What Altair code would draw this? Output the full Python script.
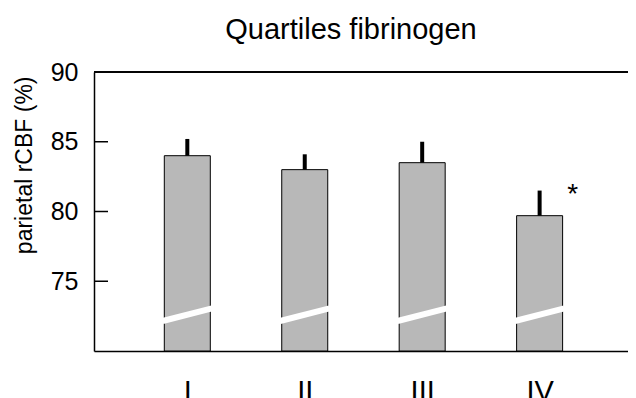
import altair as alt
import pandas as pd

quartiles = ["I", "II", "III", "IV"]
positions = [1, 2, 3, 4]
means = [84.0, 83.0, 83.5, 79.7]
upper = [85.2, 84.1, 85.0, 81.5]
sig = ["", "", "", "*"]
y_ticks = [75, 80, 85]
break_low = 72.15
break_high = 73.05

FONT = "Liberation Sans"
W, H = 534, 279

df = pd.DataFrame({
    "pos": positions,
    "q": quartiles,
    "mean": means,
    "upper": upper,
    "sig": sig,
})
df["bx1"] = df["pos"] - 0.21
df["bx2"] = df["pos"] + 0.21
ticks_df = pd.DataFrame({"t": y_ticks})

xscale = alt.Scale(domain=[0.248, 4.71], nice=False, zero=False)
yscale = alt.Scale(domain=[70, 90], nice=False, zero=False)

label_expr = "datum.value == 1 ? 'I' : datum.value == 2 ? 'II' : datum.value == 3 ? 'III' : 'IV'"

base = alt.Chart(df)

bars = base.mark_bar(size=46, fill="#b8b8b8", stroke="black", strokeWidth=1).encode(
    x=alt.X("pos:Q", scale=xscale,
            axis=alt.Axis(values=positions, labelExpr=label_expr, ticks=False, grid=False,
                          title=None, labelFontSize=29, labelFont=FONT, labelColor="black",
                          labelPadding=26, domainColor="black", domainWidth=1.5)),
    y=alt.Y("mean:Q", scale=yscale,
            axis=alt.Axis(values=[75, 80, 85, 90], tickSize=0, labelPadding=16, grid=False,
                          labelFontSize=25, labelFont=FONT, labelColor="black",
                          domainColor="black", domainWidth=1.5,
                          title="parietal rCBF (%)", titleFont=FONT, titleFontSize=23,
                          titleFontWeight="normal", titleColor="black", titleAnchor="end",
                          titlePadding=14, titleY=4)),
    y2=alt.datum(70),
)

breaks = base.mark_rule(color="white", strokeWidth=6).encode(
    x="bx1:Q", x2="bx2:Q", y=alt.datum(break_low), y2=alt.datum(break_high)
)

errs = base.mark_rule(color="black", strokeWidth=4).encode(
    x="pos:Q", y="mean:Q", y2="upper:Q"
)

stars = base.mark_text(fontSize=28, font=FONT, dx=33, dy=12, color="black", baseline="alphabetic").encode(
    x="pos:Q", y="upper:Q", text="sig:N"
)

yticks = alt.Chart(ticks_df).mark_rule(color="black", strokeWidth=1.5).encode(
    x=alt.value(0), x2=alt.value(14), y="t:Q"
)

top_line = alt.Chart(ticks_df).mark_rule(color="black", strokeWidth=1.5).encode(
    y=alt.datum(90)
)

chart = alt.layer(bars, breaks, errs, stars, yticks, top_line).properties(
    width=W, height=H,
    title=alt.TitleParams("Quartiles fibrinogen", font=FONT, fontSize=29, fontWeight="normal",
                          color="black", anchor="middle", dx=-10, baseline="alphabetic", offset=-8),
    autosize=alt.AutoSizeParams(type="none"),
    padding={"left": 86, "top": 64, "right": 0, "bottom": 60},
    background="white",
).configure_view(stroke=None)

chart.save("out.html", embed_options={"renderer": "svg", "actions": False})
